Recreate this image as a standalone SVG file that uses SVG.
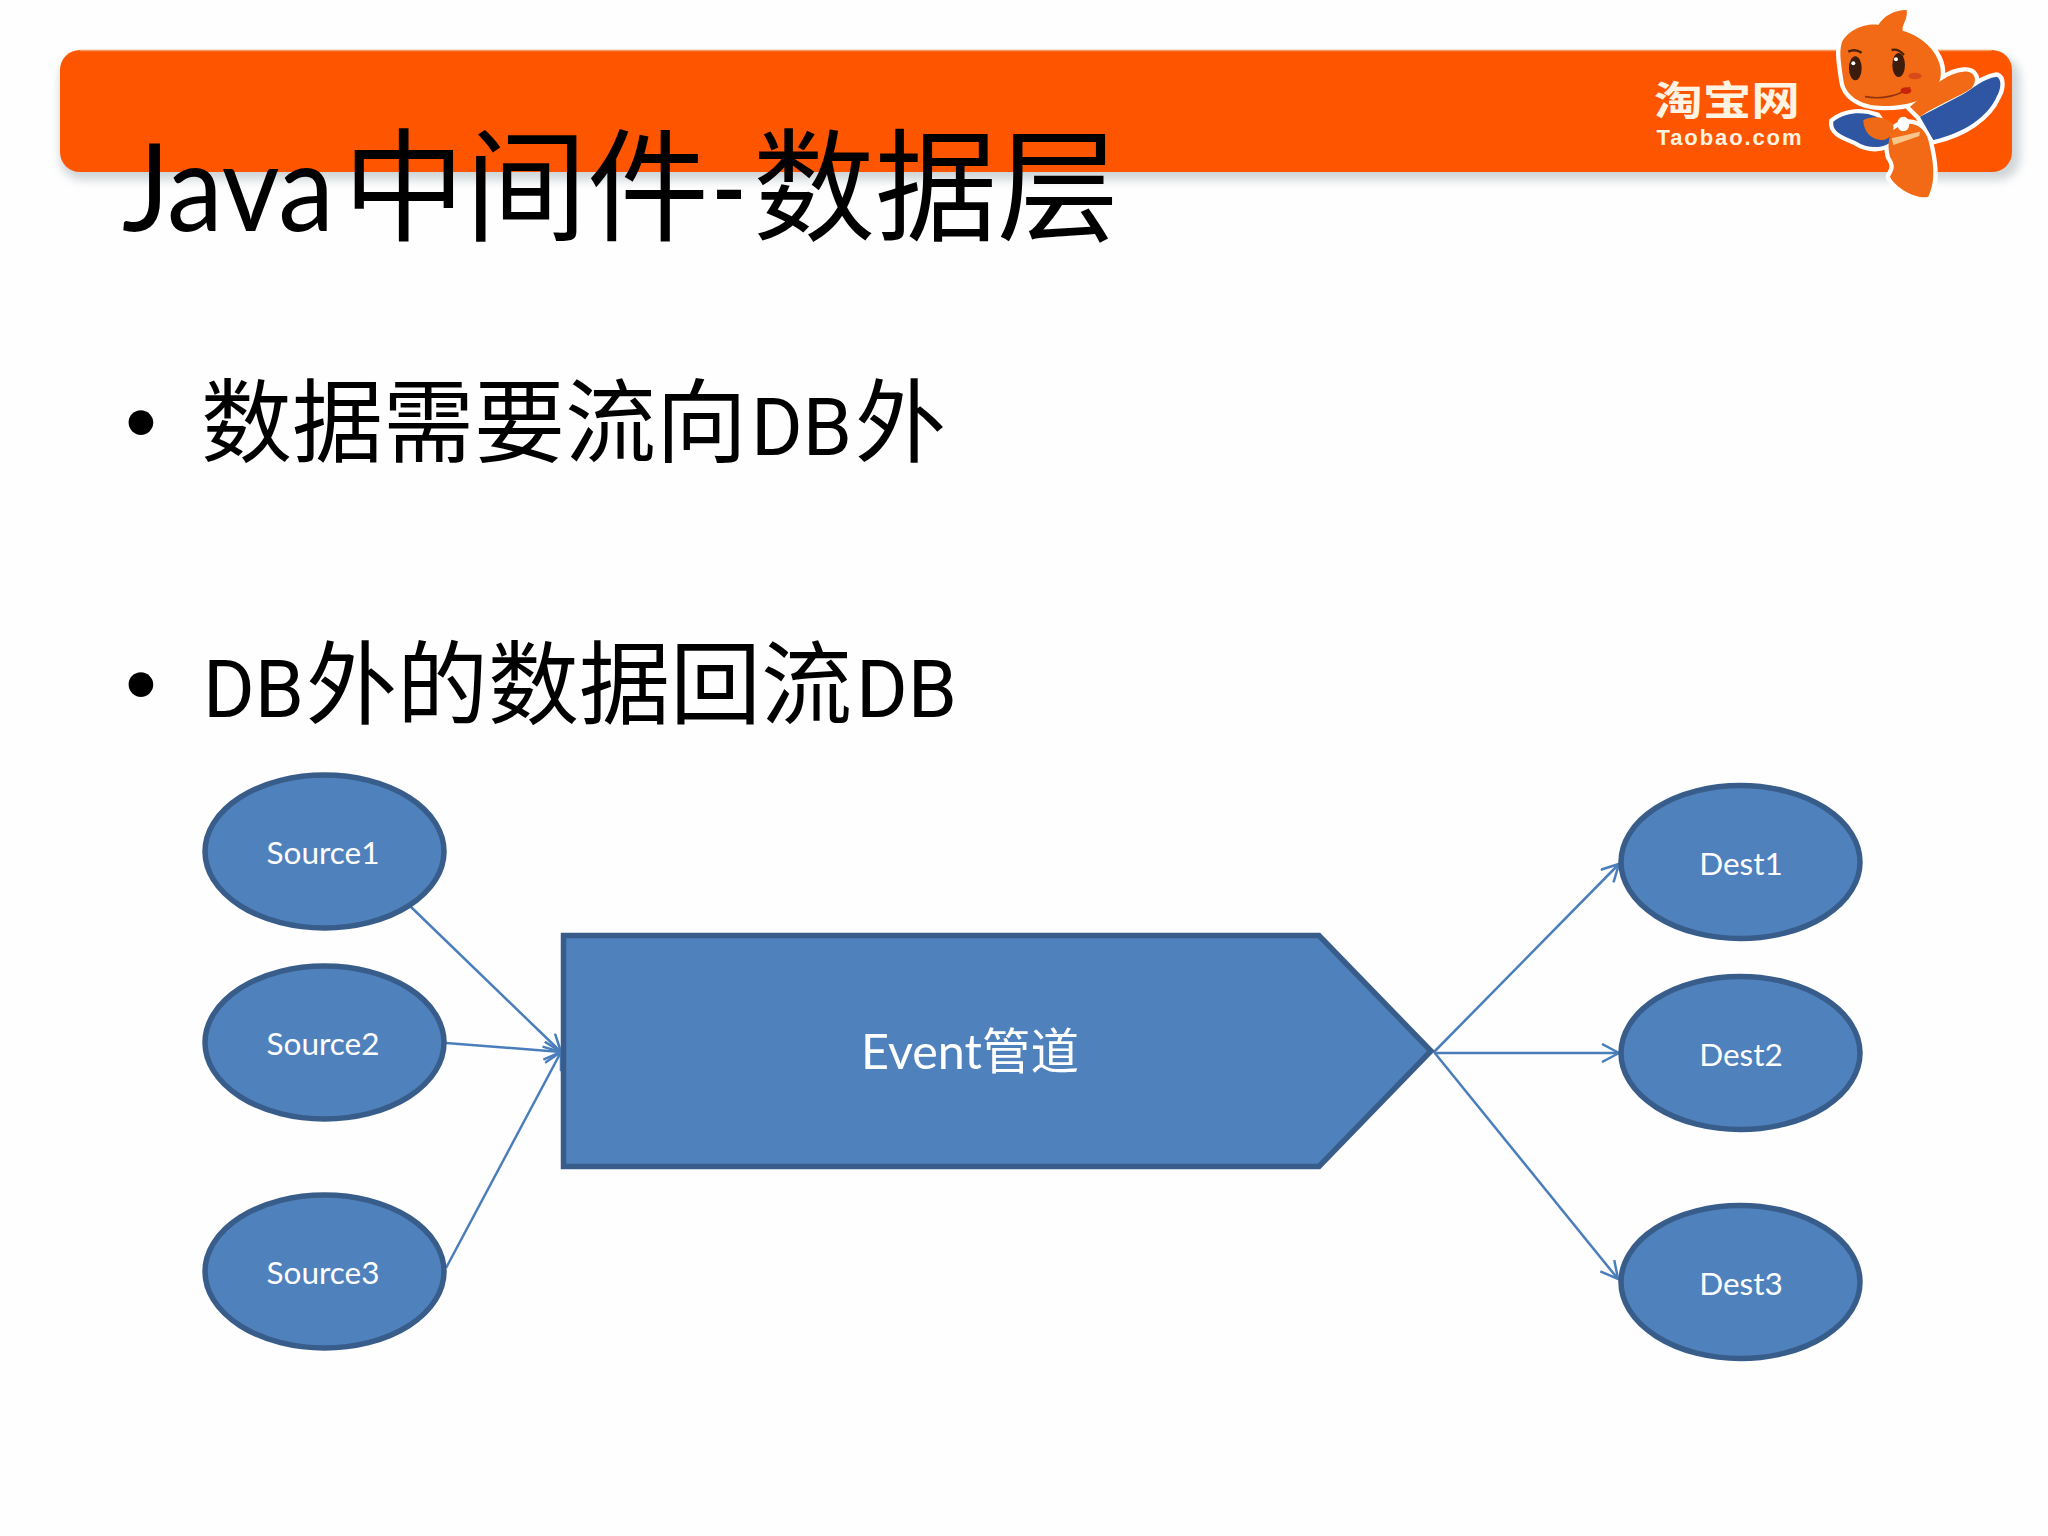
<svg xmlns="http://www.w3.org/2000/svg" xmlns:xlink="http://www.w3.org/1999/xlink" width="2048" height="1536" viewBox="0 0 2048 1536">
<style>
.cjk{font-family:Lato,"Noto Sans CJK SC",sans-serif}
.t{fill:#000}
.db{font-family:Roboto,sans-serif;font-size:79px}
.lbl{fill:#fff;font-size:31.500px;text-anchor:middle;font-family:Lato,"Noto Sans CJK SC",sans-serif}
.shape{fill:#4f81bd;stroke:#385d8a;stroke-width:5.500}
.conn{fill:none;stroke:#4a7ebb;stroke-width:2.500;marker-end:url(#open)}
.wing{fill:#2f56a3}
.body{fill:#f26a12}
.logo{fill:#fff3e2;font-family:"Noto Sans CJK SC",sans-serif;font-weight:700}
</style>
<defs>
<marker id="open" viewBox="-20 -10 22 20" refX="0" refY="0" markerWidth="22" markerHeight="20" markerUnits="userSpaceOnUse" orient="auto"><path d="M-17,-9 L0,0 L-17,9" fill="none" stroke="#4a7ebb" stroke-width="2.500"/></marker>
<filter id="soft" x="-5%" y="-30%" width="110%" height="170%"><feGaussianBlur stdDeviation="5"/></filter>
<filter id="s1" x="-5%" y="-5%" width="110%" height="110%"><feGaussianBlur stdDeviation="1.500"/></filter>
<g id="sil">
<path d="M1000,420 C1090,400 1165,350 1190,290 C1205,265 1205,235 1190,230 C1150,235 1120,265 1085,285 L960,350 Z"/>
<path d="M700,365 C740,335 790,335 830,350 L880,420 C850,450 800,445 770,425 C740,410 695,400 700,365 Z"/>
<path d="M930,320 C980,280 1030,220 1090,215 C1125,212 1135,240 1115,265 C1080,290 1020,310 960,350 Z"/>
<path d="M880,390 C930,350 975,380 985,420 C1000,480 1010,540 985,590 C960,600 890,570 870,530 C880,510 890,500 870,470 C860,430 870,400 880,390 Z"/>
<path d="M725,130 C740,90 800,68 835,75 C850,50 880,30 920,30 C925,55 905,75 908,92 C975,110 1030,170 1022,230 C1010,295 930,318 850,318 C780,318 735,285 730,240 C725,200 716,160 725,130 Z"/>
</g>
</defs>
<rect width="2048" height="1536" fill="#fefefe"/>
<g id="banner">
<rect x="60" y="56" width="1960" height="124" rx="22" fill="#a9b4b8" opacity=".55" filter="url(#soft)"/>
<rect x="60" y="50" width="1952" height="122" rx="20" fill="#fe5500"/>
<path d="M80,50.500 H1992" stroke="#f59a5c" stroke-width="1.500" fill="none"/>
</g>
<g id="logo">
<text class="logo" x="1727" y="115" font-size="40" text-anchor="middle" textLength="146" lengthAdjust="spacingAndGlyphs">淘宝网</text>
<text class="logo" x="1729" y="145" font-size="22" text-anchor="middle" style="font-family:'Liberation Sans',sans-serif;font-weight:700" textLength="145">Taobao.com</text>
<g transform="translate(1600,0) scale(.3333)" filter="url(#s1)">
<use xlink:href="#sil" href="#sil" fill="#fff" stroke="#fff" stroke-width="26" stroke-linejoin="round"/>
<path class="wing" d="M1000,420 C1090,400 1165,350 1190,290 C1205,265 1205,235 1190,230 C1150,235 1120,265 1085,285 L960,350 Z"/>
<path class="wing" d="M700,365 C740,335 790,335 830,350 L880,420 C850,450 800,445 770,425 C740,410 695,400 700,365 Z"/>
<path class="body" d="M930,320 C980,280 1030,220 1090,215 C1125,212 1135,240 1115,265 C1080,290 1020,310 960,350 Z"/>
<path class="body" d="M880,390 C930,350 975,380 985,420 C1000,480 1010,540 985,590 C960,600 890,570 870,530 C880,510 890,500 870,470 C860,430 870,400 880,390 Z"/>
<path d="M790,360 C820,345 860,350 880,375 C885,395 870,420 845,420 C815,420 790,395 790,360 Z" fill="#ee6a14"/>
<path class="body" d="M725,130 C740,90 800,68 835,75 C850,50 880,30 920,30 C925,55 905,75 908,92 C975,110 1030,170 1022,230 C1010,295 930,318 850,318 C780,318 735,285 730,240 C725,200 716,160 725,130 Z"/>
<ellipse cx="766" cy="205" rx="19" ry="36" fill="#3a1c10"/><ellipse cx="896" cy="195" rx="19" ry="36" fill="#3a1c10"/>
<circle cx="760" cy="190" r="6" fill="#fff"/><circle cx="888" cy="178" r="6" fill="#fff"/>
<path d="M745,155 Q765,145 785,158 M875,150 Q895,145 912,165" stroke="#4a2410" stroke-width="7" fill="none"/>
<path d="M795,290 C850,300 900,285 930,262" stroke="#8f3208" stroke-width="5" fill="none"/>
<ellipse cx="918" cy="272" rx="16" ry="10" fill="#c9220f"/>
<ellipse cx="945" cy="228" rx="20" ry="10" fill="#d8481a"/>
<ellipse cx="910" cy="372" rx="18" ry="22" fill="#fff"/>
<path d="M875,415 L960,395 L958,408 L880,435 Z" fill="#f8c58a"/>
</g>
</g>
<g id="title"><text class="cjk t" x="122" y="231" font-size="122"><tspan textLength="212" lengthAdjust="spacingAndGlyphs">Java</tspan><tspan x="343">中间件</tspan><tspan x="711" textLength="36" lengthAdjust="spacingAndGlyphs">-</tspan><tspan x="753">数据层</tspan></text></g>
<g id="bullets">
<text class="t" x="125" y="453" font-size="91" style="font-family:'Liberation Sans',sans-serif">•</text>
<text class="cjk t" x="201" y="455" font-size="91">数据需要流向<tspan class="db" x="751">DB</tspan><tspan x="855">外</tspan></text>
<text class="t" x="125" y="715" font-size="91" style="font-family:'Liberation Sans',sans-serif">•</text>
<text class="cjk t" x="203" y="717" font-size="91"><tspan class="db">DB</tspan><tspan x="306">外的数据回流</tspan><tspan class="db" x="856">DB</tspan></text>
</g>
<g id="connectors">
<line class="conn" x1="411" y1="907" x2="561" y2="1052"/>
<line class="conn" x1="446" y1="1043" x2="561" y2="1052"/>
<line class="conn" x1="446" y1="1268" x2="561" y2="1052"/>
<line class="conn" x1="1434" y1="1052" x2="1619" y2="864"/>
<line class="conn" x1="1434" y1="1053" x2="1619" y2="1053"/>
<line class="conn" x1="1434" y1="1052" x2="1618" y2="1279"/>
</g>
<g id="source1"><ellipse class="shape" cx="324.500" cy="851.500" rx="119.500" ry="76.500"/><text class="lbl" x="323" y="864">Source1</text></g>
<g id="source2"><ellipse class="shape" cx="324.500" cy="1042.500" rx="119.500" ry="76.500"/><text class="lbl" x="323" y="1055">Source2</text></g>
<g id="source3"><ellipse class="shape" cx="324.500" cy="1271.500" rx="119.500" ry="76.500"/><text class="lbl" x="323" y="1284">Source3</text></g>
<g id="event"><path class="shape" d="M563.500,935.500 H1319 L1431,1051 L1319,1166.500 H563.500 Z"/><text class="lbl" x="970" y="1069" style="font-size:48.500px">Event管道</text></g>
<g id="dest1"><ellipse class="shape" cx="1740.500" cy="862" rx="119.500" ry="76.500"/><text class="lbl" x="1741" y="875">Dest1</text></g>
<g id="dest2"><ellipse class="shape" cx="1740.500" cy="1053" rx="119.500" ry="76.500"/><text class="lbl" x="1741" y="1066">Dest2</text></g>
<g id="dest3"><ellipse class="shape" cx="1740.500" cy="1282" rx="119.500" ry="76.500"/><text class="lbl" x="1741" y="1295">Dest3</text></g>
</svg>
